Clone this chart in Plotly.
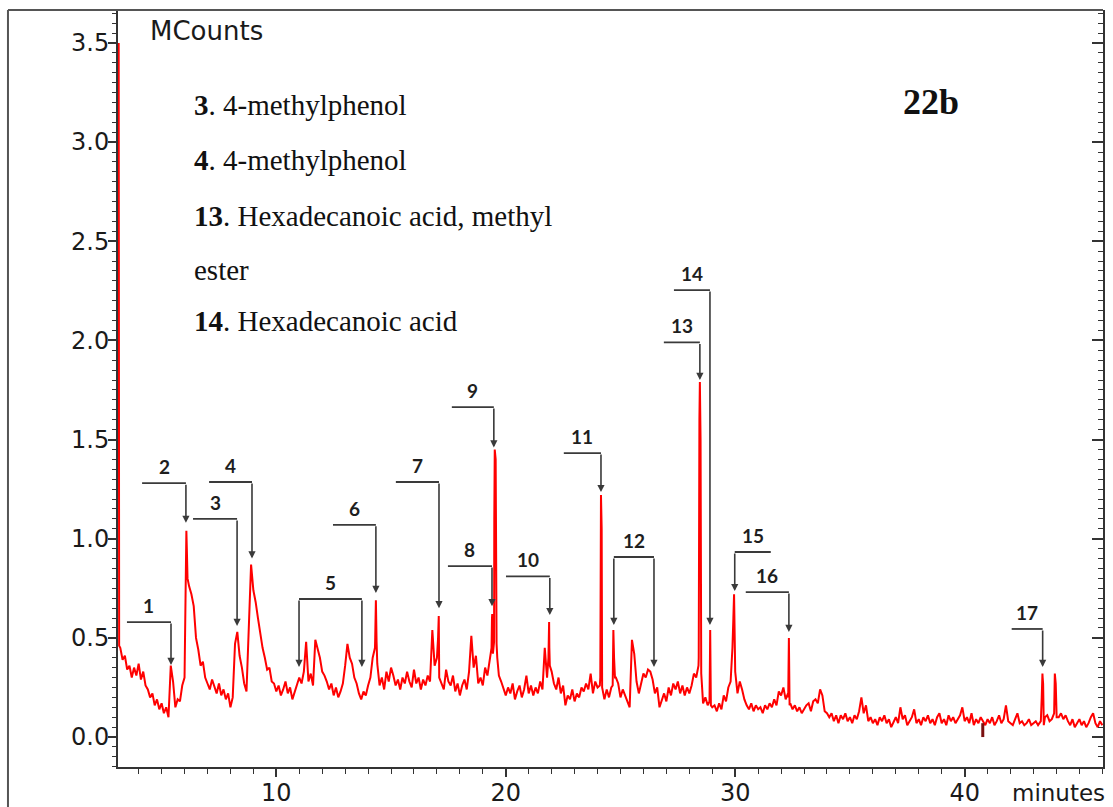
import numpy as np
import plotly.graph_objects as go

# Solvent front at the very start of the run (min, MCounts)
solvent_t = [3.13, 3.15]
solvent_v = [3.50, 0.46]

# Detector signal sampled every 0.1 min from 3.2 to 46.0 min (MCounts)
signal_v = [
    # 3.2 - 4.0
    0.45, 0.39, 0.41, 0.34, 0.36, 0.30, 0.35, 0.31, 0.37,
    # 4.1 - 5.0
    0.29, 0.33, 0.26, 0.24, 0.20, 0.22, 0.16, 0.19, 0.14, 0.17,
    # 5.1 - 6.0
    0.12, 0.15, 0.10, 0.36, 0.28, 0.15, 0.19, 0.18, 0.26, 0.30,
    # 6.1 - 7.0
    0.95, 0.76, 0.72, 0.66, 0.50, 0.44, 0.36, 0.38, 0.30, 0.27,
    # 7.1 - 8.0
    0.24, 0.29, 0.26, 0.22, 0.27, 0.21, 0.24, 0.19, 0.22, 0.15,
    # 8.1 - 9.0
    0.20, 0.47, 0.53, 0.41, 0.35, 0.27, 0.23, 0.60, 0.87, 0.74,
    # 9.1 - 10.0
    0.68, 0.60, 0.52, 0.45, 0.40, 0.34, 0.35, 0.28, 0.27, 0.23,
    # 10.1 - 11.0
    0.26, 0.21, 0.24, 0.28, 0.22, 0.25, 0.19, 0.23, 0.26, 0.30,
    # 11.1 - 12.0
    0.27, 0.33, 0.48, 0.28, 0.32, 0.26, 0.49, 0.44, 0.40, 0.33,
    # 12.1 - 13.0
    0.31, 0.28, 0.24, 0.27, 0.21, 0.25, 0.20, 0.23, 0.27, 0.36,
    # 13.1 - 14.0
    0.47, 0.40, 0.37, 0.30, 0.27, 0.22, 0.19, 0.23, 0.21, 0.26,
    # 14.1 - 15.0
    0.30, 0.40, 0.45, 0.37, 0.26, 0.30, 0.24, 0.33, 0.28, 0.35,
    # 15.1 - 16.0
    0.31, 0.26, 0.29, 0.24, 0.30, 0.27, 0.33, 0.28, 0.25, 0.34,
    # 16.1 - 17.0
    0.27, 0.30, 0.24, 0.29, 0.26, 0.31, 0.28, 0.54, 0.36, 0.40,
    # 17.1 - 18.0
    0.30, 0.27, 0.24, 0.34, 0.28, 0.26, 0.31, 0.23, 0.27, 0.21,
    # 18.1 - 19.0
    0.26, 0.29, 0.24, 0.33, 0.51, 0.35, 0.41, 0.27, 0.30, 0.26,
    # 19.1 - 20.0
    0.35, 0.31, 0.40, 0.60, 1.10, 0.47, 0.31, 0.28, 0.24, 0.21,
    # 20.1 - 21.0
    0.25, 0.22, 0.27, 0.19, 0.23, 0.26, 0.20, 0.24, 0.31, 0.22,
    # 21.1 - 22.0
    0.26, 0.21, 0.25, 0.22, 0.28, 0.24, 0.45, 0.30, 0.45, 0.33,
    # 22.1 - 23.0
    0.27, 0.24, 0.30, 0.22, 0.26, 0.16, 0.21, 0.19, 0.24, 0.18,
    # 23.1 - 24.0
    0.22, 0.20, 0.25, 0.23, 0.27, 0.24, 0.32, 0.22, 0.28, 0.25,
    # 24.1 - 25.0
    0.26, 0.25, 0.19, 0.24, 0.20, 0.25, 0.47, 0.30, 0.27, 0.20,
    # 25.1 - 26.0
    0.24, 0.21, 0.18, 0.15, 0.49, 0.42, 0.28, 0.22, 0.27, 0.32,
    # 26.1 - 27.0
    0.30, 0.34, 0.33, 0.29, 0.22, 0.25, 0.15, 0.19, 0.22, 0.18,
    # 27.1 - 28.0
    0.25, 0.21, 0.27, 0.24, 0.28, 0.22, 0.26, 0.21, 0.25, 0.22,
    # 28.1 - 29.0
    0.26, 0.32, 0.30, 0.36, 0.80, 0.17, 0.20, 0.16, 0.40, 0.15,
    # 29.1 - 30.0
    0.16, 0.13, 0.17, 0.14, 0.21, 0.18, 0.25, 0.28, 0.50, 0.33,
    # 30.1 - 31.0
    0.22, 0.28, 0.24, 0.19, 0.16, 0.14, 0.17, 0.13, 0.16, 0.14,
    # 31.1 - 32.0
    0.15, 0.12, 0.16, 0.14, 0.17, 0.15, 0.19, 0.16, 0.23, 0.21,
    # 32.1 - 33.0
    0.25, 0.19, 0.22, 0.17, 0.14, 0.16, 0.13, 0.15, 0.12, 0.14,
    # 33.1 - 34.0
    0.16, 0.17, 0.13, 0.18, 0.19, 0.17, 0.24, 0.21, 0.13, 0.12,
    # 34.1 - 35.0
    0.10, 0.12, 0.08, 0.11, 0.07, 0.11, 0.09, 0.12, 0.08, 0.10,
    # 35.1 - 36.0
    0.07, 0.11, 0.09, 0.13, 0.20, 0.12, 0.16, 0.08, 0.10, 0.07,
    # 36.1 - 37.0
    0.09, 0.06, 0.10, 0.08, 0.11, 0.07, 0.09, 0.05, 0.08, 0.10,
    # 37.1 - 38.0
    0.07, 0.15, 0.09, 0.11, 0.06, 0.08, 0.10, 0.14, 0.07, 0.09,
    # 38.1 - 39.0
    0.06, 0.10, 0.08, 0.11, 0.07, 0.09, 0.06, 0.10, 0.12, 0.07,
    # 39.1 - 40.0
    0.09, 0.06, 0.11, 0.08, 0.10, 0.07, 0.09, 0.11, 0.15, 0.08,
    # 40.1 - 41.0
    0.10, 0.07, 0.12, 0.06, 0.09, 0.07, 0.10, 0.08, 0.06, 0.09,
    # 41.1 - 42.0
    0.07, 0.10, 0.06, 0.08, 0.11, 0.07, 0.09, 0.16, 0.08, 0.07,
    # 42.1 - 43.0
    0.06, 0.09, 0.12, 0.07, 0.08, 0.06, 0.07, 0.09, 0.06, 0.07,
    # 43.1 - 44.0
    0.08, 0.06, 0.08, 0.30, 0.10, 0.11, 0.08, 0.09, 0.12, 0.15,
    # 44.1 - 45.0
    0.10, 0.12, 0.09, 0.11, 0.08, 0.06, 0.09, 0.05, 0.07, 0.09,
    # 45.1 - 46.0
    0.06, 0.08, 0.05, 0.07, 0.10, 0.12, 0.07, 0.05, 0.08, 0.06,
]
signal_t = np.round(3.2 + 0.1 * np.arange(len(signal_v)), 2)

# Narrow eluting peaks, sampled off the 0.1 min grid (min, MCounts)
spike_t = [6.05, 6.08, 6.13,
           14.31, 14.34, 14.37,
           17.05, 17.08,
           19.38, 19.41, 19.44, 19.49, 19.52, 19.56, 19.59, 19.63,
           21.86, 21.89, 21.92,
           24.12, 24.15, 24.18,
           24.66, 24.69, 24.72, 24.76,
           28.41, 28.44, 28.46, 28.49, 28.52,
           28.88, 28.91, 28.94,
           29.88, 29.92, 29.95, 29.98,
           32.31, 32.34, 32.37,
           43.32, 43.36, 43.39, 43.42, 43.45,
           43.93, 43.97, 44.01]
spike_v = [0.90, 1.04, 0.80,
           0.50, 0.69, 0.48,
           0.50, 0.61,
           0.45, 0.62, 0.42, 0.48, 1.45, 1.40, 0.55, 0.40,
           0.40, 0.58, 0.36,
           0.30, 1.22, 1.05,
           0.26, 0.54, 0.40, 0.30,
           0.40, 1.60, 1.79, 1.50, 0.32,
           0.18, 0.54, 0.16,
           0.45, 0.60, 0.72, 0.42,
           0.20, 0.50, 0.16,
           0.08, 0.20, 0.32, 0.27, 0.06,
           0.32, 0.27, 0.10]

# Short dark baseline mark near 40.8 min
mark_t = [40.79, 40.79]
mark_v = [0.0, 0.07]

# Peak brackets: label, bar start/end (min), bar height, arrow tips (min, MCounts)
peak_labels = ["1", "2", "3", "4", "5", "6", "7", "8", "9", "10",
               "11", "12", "13", "14", "15", "16", "17"]
bar_left = [3.49, 4.15, 6.37, 7.07, 10.99, 12.47, 15.21, 17.48, 17.65, 20.01,
            22.53, 24.71, 26.89, 27.33, 29.98, 30.46, 42.05]
bar_right = [5.41, 6.06, 8.29, 8.94, 13.73, 14.34, 17.09, 19.40, 19.48, 21.92,
             24.15, 26.46, 28.46, 28.90, 31.55, 32.34, 43.40]
bar_level = [0.58, 1.28, 1.10, 1.286, 0.696, 1.07, 1.286, 0.862, 1.664, 0.81,
             1.432, 0.908, 1.99, 2.254, 0.933, 0.731, 0.545]
arrow_tips = [
    [(5.41, 0.363)],
    [(6.06, 1.08)],
    [(8.29, 0.56)],
    [(8.94, 0.90)],
    [(10.99, 0.353), (13.73, 0.353)],
    [(14.34, 0.726)],
    [(17.09, 0.65)],
    [(19.40, 0.66)],
    [(19.48, 1.46)],
    [(21.92, 0.615)],
    [(24.15, 1.235)],
    [(24.71, 0.565), (26.46, 0.353)],
    [(28.46, 1.80)],
    [(28.90, 0.565)],
    [(29.98, 0.736)],
    [(32.34, 0.53)],
    [(43.40, 0.353)],
]

# Compound key
key_lines = [
    "<b>3</b>. 4-methylphenol",
    "<b>4</b>. 4-methylphenol",
    "<b>13</b>. Hexadecanoic acid, methyl",
    "ester",
    "<b>14</b>. Hexadecanoic acid",
]
key_y = [0.8745, 0.8018, 0.7279, 0.6565, 0.5892]

y_ticks = [0.0, 0.5, 1.0, 1.5, 2.0, 2.5, 3.0, 3.5]
x_ticks = [10, 20, 30, 40]
x_range = [3.1, 46.03]
y_range = [-0.151, 3.666]

# Merge the sampled signal and the peak samples into one time-ordered trace
all_t = np.concatenate([solvent_t, signal_t, spike_t])
all_v = np.concatenate([solvent_v, signal_v, spike_v])
order = np.argsort(all_t, kind="stable")
trace_t = all_t[order]
trace_v = all_v[order]

AX = "#333333"
BR = "#3a3a3a"

fig = go.Figure()
fig.add_trace(go.Scatter(x=trace_t, y=trace_v, mode="lines",
                         line=dict(color="#ff0000", width=2),
                         hoverinfo="skip"))
fig.add_trace(go.Scatter(x=mark_t, y=mark_v, mode="lines", yaxis="y2",
                         line=dict(color="#7a1010", width=3),
                         hoverinfo="skip"))

shapes = []
annotations = []

# Frame around the chart
shapes.append(dict(type="line", xref="paper", yref="paper",
                   x0=-0.1117, x1=1.0, y0=1.0, y1=1.0,
                   line=dict(color="#555555", width=2)))
shapes.append(dict(type="line", xref="paper", yref="paper",
                   x0=-0.1117, x1=-0.1117, y0=1.0, y1=-0.07,
                   line=dict(color="#555555", width=2)))

for lab, x0, x1, lev, tips in zip(peak_labels, bar_left, bar_right, bar_level, arrow_tips):
    shapes.append(dict(type="line", xref="x", yref="y", x0=x0, x1=x1, y0=lev, y1=lev,
                       line=dict(color=BR, width=1.8)))
    for tt, tv in tips:
        annotations.append(dict(x=tt, y=tv, ax=tt, ay=lev, xref="x", yref="y",
                                axref="x", ayref="y", text="", showarrow=True,
                                arrowhead=2, arrowsize=0.9, arrowwidth=1.6,
                                arrowcolor=BR, standoff=0))
    annotations.append(dict(x=(x0 + x1) / 2, y=lev, xref="x", yref="y",
                            text="<b>" + lab + "</b>",
                            showarrow=False, xanchor="center", yanchor="bottom",
                            yshift=3,
                            font=dict(family="Lato", size=19, color="#1e1e1e")))

for txt, yy in zip(key_lines, key_y):
    annotations.append(dict(x=0.0751, y=yy, xref="paper", yref="paper", text=txt,
                            showarrow=False, xanchor="left", yanchor="middle",
                            font=dict(family="Liberation Serif", size=29,
                                      color="#111111")))

annotations.append(dict(x=0.8254, y=0.8785, xref="paper", yref="paper",
                        text="<b>22b</b>", showarrow=False, xanchor="center",
                        yanchor="middle",
                        font=dict(family="Liberation Serif", size=36, color="#111111")))
annotations.append(dict(x=0.0305, y=0.9723, xref="paper", yref="paper",
                        text="MCounts", showarrow=False, xanchor="left",
                        yanchor="middle",
                        font=dict(family="DejaVu Sans", size=26, color="#1a1a1a")))
annotations.append(dict(x=1.0041, y=-0.0343, xref="paper", yref="paper",
                        text="minutes", showarrow=False, xanchor="right",
                        yanchor="middle",
                        font=dict(family="DejaVu Sans", size=23, color="#1a1a1a")))

tick_font = dict(family="DejaVu Sans", size=24, color="#1a1a1a")

fig.update_layout(
    width=1113, height=807,
    margin=dict(l=118, r=10, t=10, b=40, autoexpand=False),
    paper_bgcolor="white", plot_bgcolor="white",
    showlegend=False,
    shapes=shapes,
    annotations=annotations,
    xaxis=dict(range=x_range, tickmode="array", tickvals=x_ticks,
               ticks="outside", ticklen=8, tickwidth=1.5, tickcolor=AX,
               showline=True, linecolor=AX, linewidth=2,
               minor=dict(dtick=1, tick0=0, ticks="outside", ticklen=5,
                          tickwidth=1.2, tickcolor=AX),
               showgrid=False, zeroline=False, tickfont=tick_font,
               automargin=False, ticklabelstandoff=-5),
    yaxis=dict(range=y_range, tickmode="array", tickvals=y_ticks,
               tickformat=".1f", ticks="outside", ticklen=8, tickwidth=1.5,
               tickcolor=AX, showline=True, linecolor=AX, linewidth=2,
               minor=dict(dtick=0.05, tick0=0, ticks="outside", ticklen=4,
                          tickwidth=1.2, tickcolor=AX),
               showgrid=False, zeroline=False, tickfont=tick_font,
               layer="below traces", automargin=False, ticklabelstandoff=-6),
    yaxis2=dict(range=y_range, overlaying="y", side="right",
                tickmode="array", tickvals=y_ticks, showticklabels=False,
                ticks="inside", ticklen=11, tickwidth=1.5, tickcolor=AX,
                showline=True, linecolor=AX, linewidth=2,
                minor=dict(dtick=0.05, tick0=0, ticks="inside", ticklen=5,
                           tickwidth=1.2, tickcolor=AX),
                showgrid=False, zeroline=False, automargin=False),
)

fig.write_html("out.html")
